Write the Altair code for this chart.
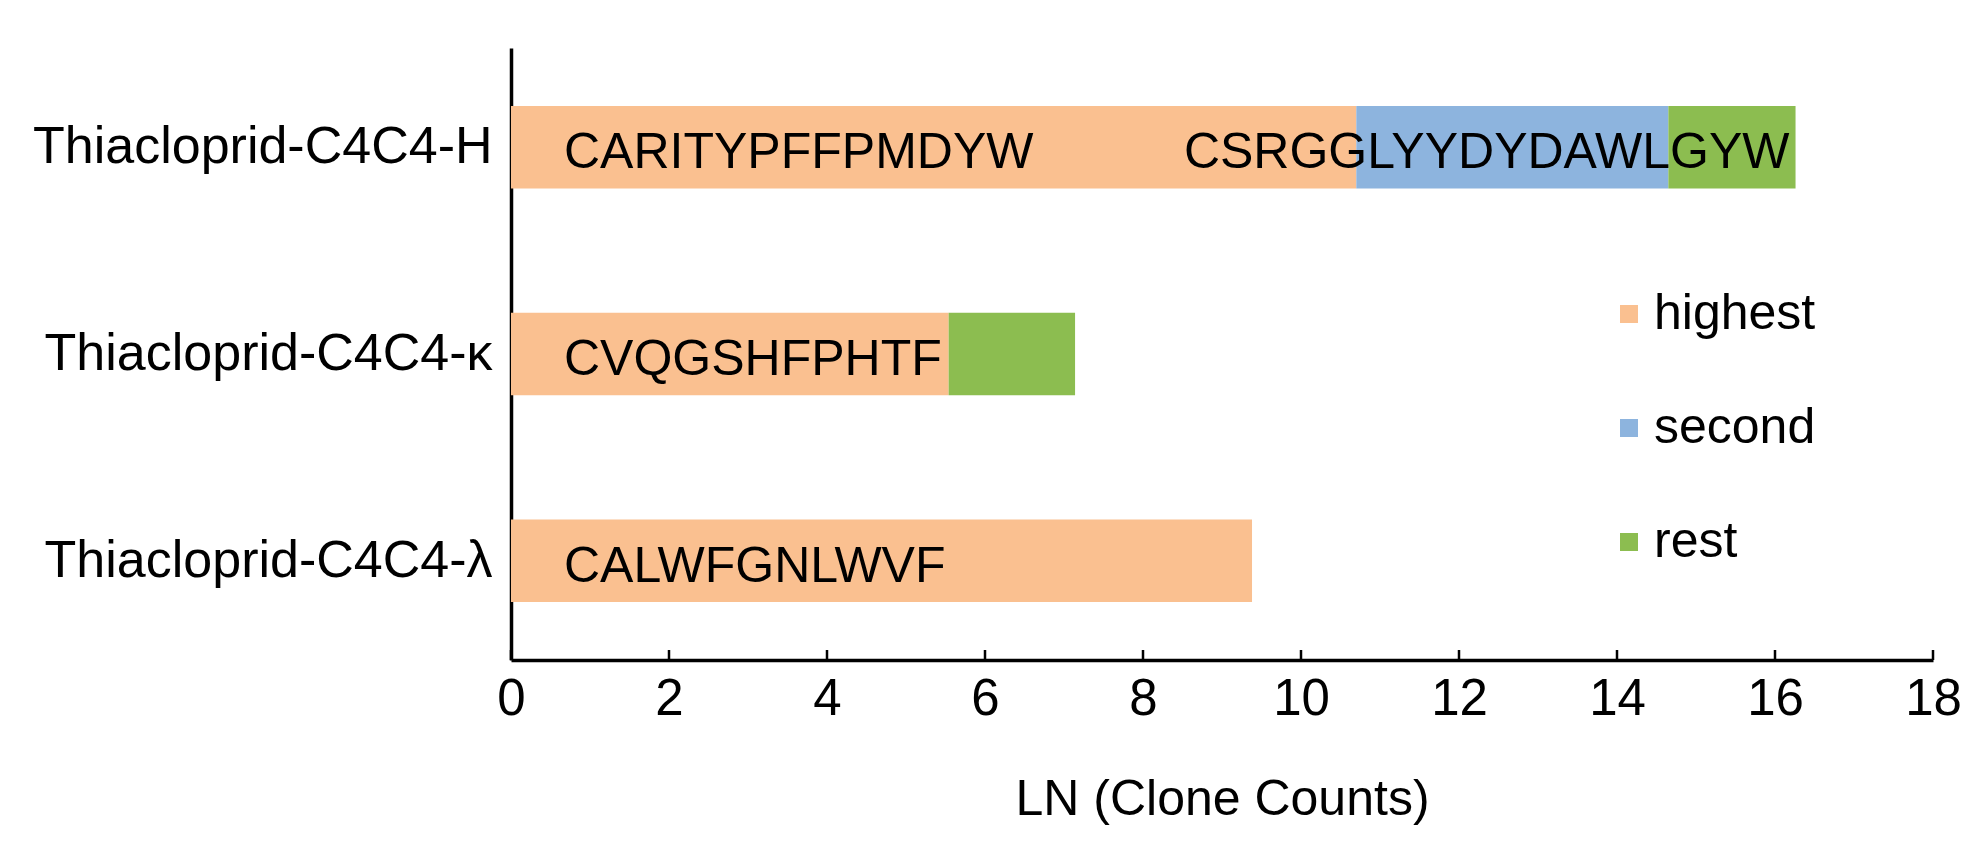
import altair as alt
import pandas as pd

categories = ["Thiacloprid-C4C4-H", "Thiacloprid-C4C4-κ", "Thiacloprid-C4C4-λ"]
highest = [10.7, 5.54, 9.38]
second = [3.95, 0.0, 0.0]
rest = [1.61, 1.6, 0.0]
series = ["highest", "second", "rest"]
colors = ["#FAC090", "#8DB4DE", "#8CBD50"]

start_labels = ["CARITYPFFPMDYW", "CVQGSHFPHTF", "CALWFGNLWVF"]
end_labels = ["CSRGGLYYDYDAWLGYW", "", ""]

x_ticks = [0, 2, 4, 6, 8, 10, 12, 14, 16, 18]

FONT = "Liberation Sans"
FS = 50
W, H = 1422, 612

rows = []
for i, c in enumerate(categories):
    for k, (s, v) in enumerate(zip(series, [highest[i], second[i], rest[i]])):
        rows.append({"cat": c, "series": s, "value": v, "order": k})
bars_df = pd.DataFrame(rows)

lab_df = pd.DataFrame({
    "cat": categories,
    "start": start_labels,
    "end": end_labels,
    "total": [h + s + r for h, s, r in zip(highest, second, rest)],
})
tick_df = pd.DataFrame({"t": x_ticks})

x_scale = alt.Scale(domain=[0, 18], nice=False, zero=True)
y_scale = alt.Scale(domain=categories, paddingInner=0.6, paddingOuter=0.28)

bars = alt.Chart(bars_df).mark_bar().encode(
    x=alt.X("sum(value):Q", scale=x_scale, stack="zero",
            axis=alt.Axis(values=x_ticks, format="d", title="LN (Clone Counts)", grid=False,
                          ticks=False, tickSize=0, domainColor="black", domainWidth=3.5,
                          labelFont=FONT, labelFontSize=51, labelColor="black",
                          labelPadding=14, titleFont=FONT, titleFontSize=FS,
                          titleFontWeight="normal", titleColor="black", titlePadding=50,
                          labelFlush=False, labelOverlap=False)),
    y=alt.Y("cat:N", scale=y_scale, sort=categories,
            axis=alt.Axis(title=None, ticks=False, tickSize=0, grid=False,
                          domainColor="black", domainWidth=3.5,
                          labelFont=FONT, labelFontSize=52, labelColor="black",
                          labelPadding=19, labelLimit=0)),
    color=alt.Color("series:N", scale=alt.Scale(domain=series, range=colors),
                    legend=alt.Legend(title=None, orient="none", legendX=1093, legendY=241,
                                      symbolType="square", symbolSize=324,
                                      symbolStrokeWidth=0, labelFont=FONT,
                                      labelFontSize=FS, labelColor="black",
                                      labelOffset=0, rowPadding=64, padding=0,
                                      labelLimit=0)),
    order=alt.Order("order:Q"),
)

start_text = alt.Chart(lab_df).mark_text(
    align="left", baseline="middle", dx=53, dy=6, font=FONT, fontSize=FS, color="black"
).encode(
    x=alt.datum(0),
    y=alt.Y("cat:N", scale=y_scale, sort=categories),
    text="start:N",
)

end_text = alt.Chart(lab_df).mark_text(
    align="right", baseline="middle", dx=-6, dy=6, font=FONT, fontSize=FS, color="black"
).encode(
    x=alt.X("total:Q", scale=x_scale),
    y=alt.Y("cat:N", scale=y_scale, sort=categories),
    text="end:N",
)

ticks = alt.Chart(tick_df).mark_rule(color="black", strokeWidth=2.5).encode(
    x=alt.X("t:Q", scale=x_scale),
    y=alt.value(H - 10),
    y2=alt.value(H),
)

chart = alt.layer(bars, start_text, end_text, ticks).properties(
    width=W, height=H,
    padding={"left": 503, "top": 40, "right": 38, "bottom": 180},
    autosize=alt.AutoSizeParams(type="none"),
    background="white",
).configure_view(strokeWidth=0, stroke=None)

chart.save("out.html", embed_options={"renderer": "svg", "actions": False})
